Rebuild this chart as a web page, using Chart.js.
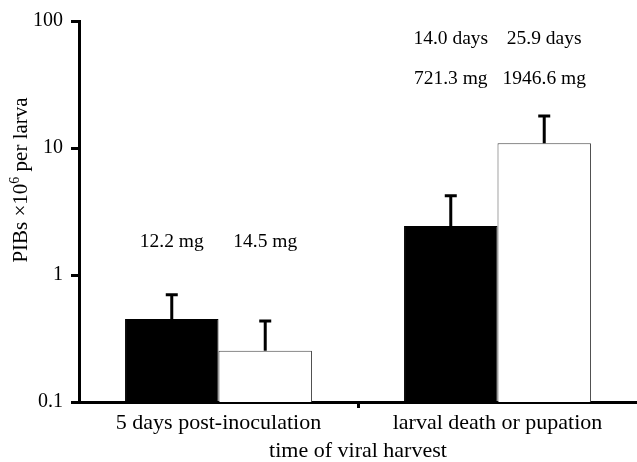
<!DOCTYPE html>
<html>
<head>
<meta charset="utf-8">
<script src="https://cdn.jsdelivr.net/npm/chart.js@4/dist/chart.umd.min.js"></script>
<style>
  body { margin: 0; background: #fff; }
  #wrap { width: 637px; height: 462px; }
</style>
</head>
<body>
<div id="wrap"><canvas id="pibChart" width="637" height="462"></canvas></div>
<script>
const categories = ["5 days post-inoculation", "larval death or pupation"];
const blackValues = [0.45, 2.43];
const blackErrors = [0.70, 4.2];
const whiteValues = [0.253, 10.9];
const whiteErrors = [0.435, 17.9];
const yTicks = [0.1, 1, 10, 100];
// text above each bar, top line first
const blackNotes = [["12.2 mg"], ["14.0 days", "721.3 mg"]];
const whiteNotes = [["14.5 mg"], ["25.9 days", "1946.6 mg"]];
const noteTop = [[242], [39, 79]];
const yTitle = ["PIBs \u00d710", "6", " per larva"];

const serif = "'Liberation Serif', 'Times New Roman', serif";

const extras = {
  id: "extras",
  afterDatasetsDraw(chart) {
    const ctx = chart.ctx;
    const y = chart.scales.y;
    ctx.save();
    ctx.strokeStyle = "#000";
    ctx.lineWidth = 3;
    chart.data.datasets.forEach((ds, i) => {
      const meta = chart.getDatasetMeta(i);
      meta.data.forEach((bar, j) => {
        const top = y.getPixelForValue(ds.errTop[j]);
        ctx.beginPath();
        ctx.moveTo(bar.x, bar.y);
        ctx.lineTo(bar.x, top);
        ctx.moveTo(bar.x - 6, top);
        ctx.lineTo(bar.x + 6, top);
        ctx.stroke();
      });
    });
    // notes above bars
    ctx.fillStyle = "#000";
    ctx.font = "19.5px " + serif;
    ctx.textAlign = "center";
    ctx.textBaseline = "middle";
    chart.data.datasets.forEach((ds, i) => {
      const meta = chart.getDatasetMeta(i);
      meta.data.forEach((bar, j) => {
        ds.notes[j].forEach((t, k) => {
          ctx.fillText(t, bar.x, noteTop[j][k]);
        });
      });
    });
    // y axis title with superscript
    ctx.translate(21, 180);
    ctx.rotate(-Math.PI / 2);
    ctx.textAlign = "left";
    ctx.textBaseline = "middle";
    const big = "21px " + serif, small = "14px " + serif;
    ctx.font = big;
    const w0 = ctx.measureText(yTitle[0]).width;
    const w2 = ctx.measureText(yTitle[2]).width;
    ctx.font = small;
    const w1 = ctx.measureText(yTitle[1]).width;
    let x = -(w0 + w1 + w2) / 2;
    ctx.font = big;
    ctx.fillText(yTitle[0], x, 0);
    x += w0;
    ctx.font = small;
    ctx.fillText(yTitle[1], x, -6);
    x += w1;
    ctx.font = big;
    ctx.fillText(yTitle[2], x, 0);
    ctx.restore();
  }
};

new Chart(document.getElementById("pibChart").getContext("2d"), {
  type: "bar",
  data: {
    labels: categories,
    datasets: [
      {
        label: "black",
        data: blackValues,
        errTop: blackErrors,
        notes: blackNotes,
        backgroundColor: "#000",
        borderColor: "#000",
        borderWidth: 1,
        categoryPercentage: 0.67,
        barPercentage: 1.0,
      },
      {
        label: "white",
        data: whiteValues,
        errTop: whiteErrors,
        notes: whiteNotes,
        backgroundColor: "#fff",
        borderColor: "#444",
        borderWidth: 1,
        categoryPercentage: 0.67,
        barPercentage: 1.0,
      },
    ],
  },
  options: {
    responsive: false,
    animation: false,
    layout: { padding: { top: 21, right: 0, left: 25, bottom: 0 } },
    plugins: {
      legend: { display: false },
      title: { display: false },
      tooltip: { enabled: false },
    },
    scales: {
      x: {
        border: { display: true, color: "#000", width: 3 },
        grid: {
          display: true,
          drawOnChartArea: false,
          tickLength: 6,
          lineWidth: 3,
          color: (c) => (c.index === 1 ? "#000" : "rgba(0,0,0,0)"),
        },
        ticks: { color: "#000", font: { family: serif, size: 22, lineHeight: 1.0 }, padding: 4 },
        title: {
          display: true,
          text: "time of viral harvest",
          color: "#000",
          font: { family: serif, size: 22, lineHeight: 1.0 },
          padding: { top: 2, bottom: 0 },
        },
      },
      y: {
        type: "logarithmic",
        min: 0.1,
        max: 100,
        afterBuildTicks: (scale) => {
          scale.ticks = yTicks.map((v) => ({ value: v }));
        },
        border: { display: true, color: "#000", width: 3 },
        grid: {
          display: true,
          drawOnChartArea: false,
          tickLength: 8,
          lineWidth: 3,
          color: "#000",
        },
        ticks: {
          color: "#000",
          font: { family: serif, size: 20 },
          padding: 8,
          callback: (v) => String(v),
        },
        title: { display: false },
      },
    },
  },
  plugins: [extras],
});
</script>
</body>
</html>
